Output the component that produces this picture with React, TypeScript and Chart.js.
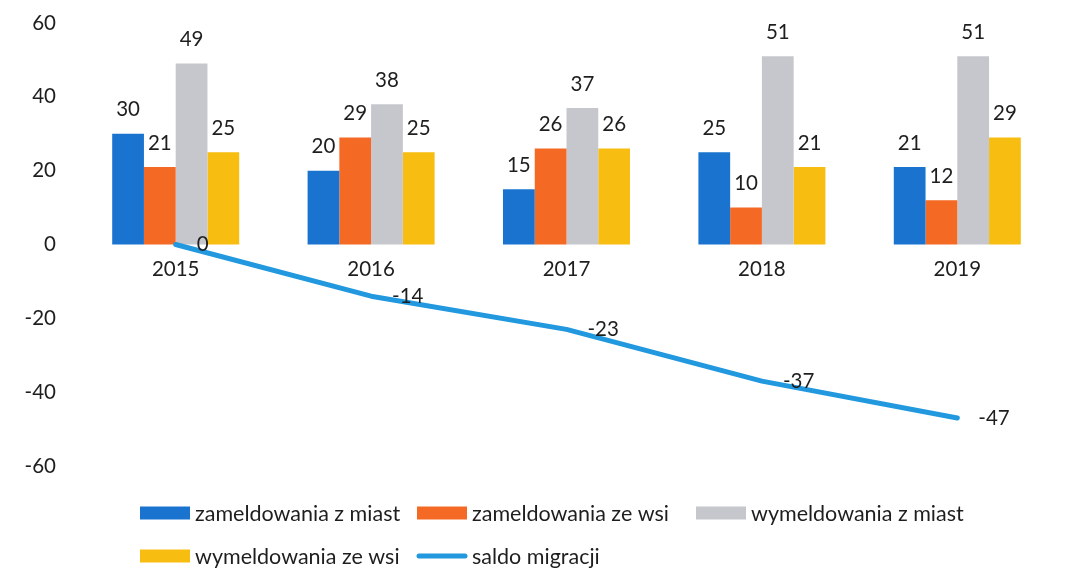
import React, { useEffect, useRef } from "react";
import { Chart, registerables } from "chart.js";

Chart.register(...registerables);

const categories = ["2015", "2016", "2017", "2018", "2019"];
const zamMiast = [30, 20, 15, 25, 21];
const zamWies = [21, 29, 26, 10, 12];
const wymMiast = [49, 38, 37, 51, 51];
const wymWies = [25, 25, 26, 21, 29];
const saldo = [0, -14, -23, -37, -47];
const yTicks = [-60, -40, -20, 0, 20, 40, 60];

const seriesNames = [
  "zameldowania z miast",
  "zameldowania ze wsi",
  "wymeldowania z miast",
  "wymeldowania ze wsi",
  "saldo migracji",
];
const colors = ["#1a74cf", "#f46a24", "#c6c7cc", "#f7bd10", "#2298de"];

const FONT = "Lato, 'Noto Sans', sans-serif";
const TEXT = "#1e1e1e";
const NUM_SIZE = 20.5;
const LEG_SIZE = 21.5;

const labelPlugin = {
  id: "valueLabels",
  afterDatasetsDraw(chart: any) {
    const ctx = chart.ctx;
    ctx.save();
    ctx.font = `${NUM_SIZE}px ${FONT}`;
    ctx.fillStyle = TEXT;
    chart.data.datasets.forEach((ds: any, i: number) => {
      const meta = chart.getDatasetMeta(i);
      meta.data.forEach((el: any, j: number) => {
        const v = ds.data[j];
        ctx.textBaseline = "middle";
        if (ds.type === "line") {
          ctx.textAlign = "left";
          ctx.fillText(String(v), el.x + 21, el.y);
        } else {
          ctx.textAlign = "center";
          ctx.fillText(String(v), el.x, el.y - 24);
        }
      });
    });
    ctx.restore();
  },
};

const legendPlugin = {
  id: "gridLegend",
  afterDraw(chart: any) {
    const ctx = chart.ctx;
    const cols = [140, 417, 696];
    const rows = [513, 556];
    ctx.save();
    ctx.font = `${LEG_SIZE}px ${FONT}`;
    ctx.textBaseline = "middle";
    ctx.textAlign = "left";
    seriesNames.forEach((name, i) => {
      const x = cols[i % 3];
      const y = rows[Math.floor(i / 3)];
      if (i === 4) {
        ctx.strokeStyle = colors[i];
        ctx.lineWidth = 5;
        ctx.lineCap = "round";
        ctx.beginPath();
        ctx.moveTo(x + 2, y);
        ctx.lineTo(x + 48, y);
        ctx.stroke();
      } else {
        ctx.fillStyle = colors[i];
        ctx.fillRect(x, y - 6.5, 50, 13);
      }
      ctx.fillStyle = TEXT;
      ctx.fillText(name, x + 55, y + 1);
    });
    ctx.restore();
  },
};

export default function App() {
  const ref = useRef<HTMLCanvasElement | null>(null);
  useEffect(() => {
    document.body.style.margin = "0";
    const barDs = (label: string, data: number[], color: string) => ({
      type: "bar" as const,
      label,
      data,
      backgroundColor: color,
      borderWidth: 0,
      categoryPercentage: 0.65,
      barPercentage: 1.0,
      order: 1,
    });
    const chart = new Chart(ref.current as HTMLCanvasElement, {
      type: "bar",
      data: {
        labels: categories,
        datasets: [
          barDs(seriesNames[0], zamMiast, colors[0]),
          barDs(seriesNames[1], zamWies, colors[1]),
          barDs(seriesNames[2], wymMiast, colors[2]),
          barDs(seriesNames[3], wymWies, colors[3]),
          {
            type: "line" as const,
            label: seriesNames[4],
            data: saldo,
            borderColor: colors[4],
            backgroundColor: colors[4],
            borderWidth: 5,
            pointRadius: 0,
            tension: 0,
            borderCapStyle: "round",
            borderJoinStyle: "round",
            order: 0,
          } as any,
        ],
      },
      options: {
        responsive: false,
        animation: false,
        devicePixelRatio: 1,
        layout: { padding: { top: 23, right: 13, bottom: 103, left: 0 } },
        plugins: { legend: { display: false }, tooltip: { enabled: false } },
        scales: {
          x: {
            position: { y: 0 } as any,
            grid: { display: false, drawTicks: false },
            border: { display: false },
            ticks: { color: TEXT, font: { family: FONT, size: NUM_SIZE }, padding: 13 },
          },
          y: {
            min: -60,
            max: 60,
            afterBuildTicks: (scale: any) => {
              scale.ticks = yTicks.map((v) => ({ value: v }));
            },
            afterFit: (scale: any) => {
              scale.width = 78;
              scale.paddingTop = 0;
              scale.paddingBottom = 0;
            },
            grid: { display: false, drawTicks: false },
            border: { display: false },
            ticks: { color: TEXT, font: { family: FONT, size: NUM_SIZE }, padding: 22 },
          },
        },
      },
      plugins: [labelPlugin, legendPlugin],
    });
    return () => chart.destroy();
  }, []);
  return (
    <div style={{ width: 1068, height: 569 }}>
      <canvas ref={ref} width={1068} height={569} style={{ display: "block" }} />
    </div>
  );
}
